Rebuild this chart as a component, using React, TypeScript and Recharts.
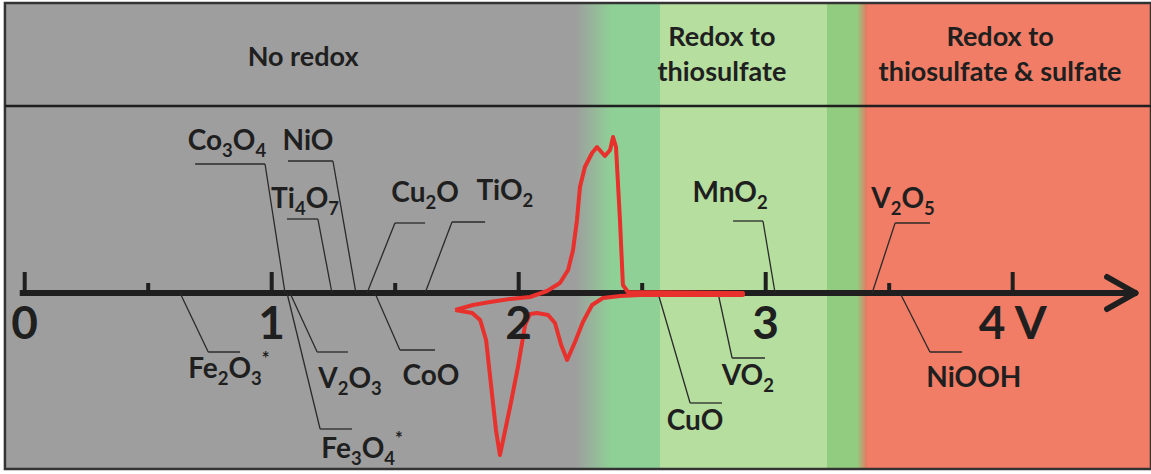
import React from 'react';
import { ComposedChart, Line, XAxis, YAxis, ReferenceArea, ReferenceLine, ReferenceDot } from 'recharts';

// cyclic voltammogram (arbitrary current units), points in scan order
const cvPotential = [
  1.743, 1.815, 1.884, 1.965, 2.046, 2.115, 2.167, 2.2, 2.22, 2.236, 2.248, 2.268, 2.297, 2.317,
  2.349, 2.37, 2.382, 2.394, 2.41, 2.422, 2.442, 2.908,
  2.908, 2.491, 2.41, 2.341, 2.297, 2.26, 2.228, 2.196, 2.172, 2.147, 2.119, 2.074, 2.046, 2.026,
  1.997, 1.965, 1.937, 1.924, 1.908, 1.888, 1.868, 1.844, 1.812, 1.743,
];
const cvCurrent = [
  -0.17, -0.12, -0.09, -0.06, -0.04, 0.02, 0.1, 0.23, 0.43, 0.73, 1.06, 1.26, 1.4, 1.46,
  1.37, 1.43, 1.56, 1.46, 0.73, 0.08, 0.01, 0.0,
  -0.02, -0.02, -0.03, -0.05, -0.12, -0.29, -0.49, -0.67, -0.52, -0.3, -0.22, -0.2, -0.21, -0.32,
  -0.74, -1.14, -1.47, -1.62, -1.37, -0.92, -0.47, -0.27, -0.2, -0.17,
];

const tickValues = [0, 1, 2, 3, 4];
const tickLabels = ['0', '1', '2', '3', '4 V'];
const minorTicks = [0.5, 1.5, 2.5, 3.5];

// region boundaries (V) and titles
const regionEdges = [2.23, 3.41];
const regionTitles = [['No redox'], ['Redox to', 'thiosulfate'], ['Redox to', 'thiosulfate & sulfate']];

// compounds and the potential where their leader touches the axis
const compounds = ['Co_3O_4', 'NiO', 'Ti_4O_7', 'Cu_2O', 'TiO_2', 'MnO_2', 'V_2O_5',
  'Fe_2O_3^*', 'V_2O_3', 'Fe_3O_4^*', 'CoO', 'CuO', 'VO_2', 'NiOOH'];
const potentials = [1.054, 1.341, 1.244, 1.386, 1.621, 3.038, 3.431,
  0.629, 1.074, 1.062, 1.418, 2.564, 2.807, 3.544];

// leader layout: elbow x, end x, leader y, label x, label y
const leaderLayout = [
  [0.973, 0.69, 1.29, 0.819, 1.43],
  [1.248, 1.066, 1.32, 1.147, 1.43],
  [1.187, 1.062, 0.74, 1.135, 0.85],
  [1.499, 1.621, 0.7, 1.621, 0.91],
  [1.73, 1.864, 0.71, 1.944, 0.93],
  [2.989, 2.868, 0.72, 2.856, 0.91],
  [3.524, 3.665, 0.7, 3.556, 0.85],
  [0.743, 0.872, -0.59, 0.827, -0.85],
  [1.184, 1.309, -0.59, 1.317, -0.95],
  [1.196, 1.325, -1.36, 1.366, -1.65],
  [1.519, 1.661, -0.57, 1.645, -0.92],
  [2.694, 2.823, -1.1, 2.714, -1.37],
  [2.864, 2.997, -0.65, 2.928, -0.92],
  [3.665, 3.795, -0.59, 3.843, -0.94],
];

const cvData = cvPotential.map((v, i) => ({ v, i: cvCurrent[i] }));

const FONT = 'Lato, "Open Sans", sans-serif';
const INK = '#1f1f1f';
const LEFT = -0.08;
const RIGHT = 4.56;
const TOP = 2.9;
const BOTTOM = -1.76;

function Chem({ x, y, text, size }: { x: number; y: number; text: string; size: number }) {
  const parts: React.ReactNode[] = [];
  let i = 0;
  let shift = 0;
  while (i < text.length) {
    const c = text[i];
    if (c === '_' || c === '^') {
      const d = c === '_' ? 7 : -13;
      parts.push(<tspan key={i} dy={d - shift} fontSize={size * 0.66}>{text[i + 1]}</tspan>);
      shift = d;
      i += 2;
    } else {
      let j = i;
      while (j < text.length && text[j] !== '_' && text[j] !== '^') j++;
      parts.push(<tspan key={i} dy={-shift} fontSize={size}>{text.slice(i, j)}</tspan>);
      shift = 0;
      i = j;
    }
  }
  return (
    <text x={x} y={y} textAnchor="middle" fontFamily={FONT} fontWeight={700} fontSize={size} fill={INK}>
      {parts}
    </text>
  );
}

const textAt = (text: string, size: number) => (p: any) => <Chem x={p.cx} y={p.cy} text={text} size={size} />;

export default function App() {
  const titleX = [1.127, 2.823, 3.949];
  return (
    <div style={{ position: 'absolute', left: 0, top: 0, background: '#fff' }}>
      <ComposedChart width={1151} height={474} data={cvData} margin={{ top: 0, right: 0, bottom: 0, left: 0 }}>
        <defs>
          <linearGradient id="grayGreen" x1="0" x2="1" y1="0" y2="0">
            <stop offset="0%" stopColor="#9e9e9e" />
            <stop offset="100%" stopColor="#8fd096" />
          </linearGradient>
          <linearGradient id="greenRed" x1="0" x2="1" y1="0" y2="0">
            <stop offset="0%" stopColor="#92cc80" />
            <stop offset="100%" stopColor="#ee6f5e" />
          </linearGradient>
        </defs>
        <XAxis type="number" dataKey="v" domain={[-0.1, 4.56]} hide allowDataOverflow />
        <YAxis type="number" domain={[-1.81, 2.93]} hide allowDataOverflow />

        <ReferenceArea x1={LEFT} x2={regionEdges[0] + 0.01} y1={BOTTOM} y2={TOP} fill="#9e9e9e" fillOpacity={1} stroke="none" />
        <ReferenceArea x1={regionEdges[0]} x2={2.375} y1={BOTTOM} y2={TOP} fill="url(#grayGreen)" fillOpacity={1} stroke="none" />
        <ReferenceArea x1={2.37} x2={2.575} y1={BOTTOM} y2={TOP} fill="#8fd096" fillOpacity={1} stroke="none" />
        <ReferenceArea x1={2.572} x2={3.25} y1={BOTTOM} y2={TOP} fill="#b6de9f" fillOpacity={1} stroke="none" />
        <ReferenceArea x1={3.248} x2={3.375} y1={BOTTOM} y2={TOP} fill="#92cc80" fillOpacity={1} stroke="none" />
        <ReferenceArea x1={3.37} x2={regionEdges[1] + 0.005} y1={BOTTOM} y2={TOP} fill="url(#greenRed)" fillOpacity={1} stroke="none" />
        <ReferenceArea x1={regionEdges[1]} x2={RIGHT} y1={BOTTOM} y2={TOP} fill="#f27d66" fillOpacity={1} stroke="none" />
        <ReferenceArea x1={LEFT} x2={RIGHT} y1={BOTTOM} y2={TOP} fill="none" stroke="#333" strokeWidth={2.5} />
        <ReferenceLine segment={[{ x: LEFT, y: 1.87 }, { x: RIGHT, y: 1.87 }]} stroke={INK} strokeWidth={2.5} />

        {/* axis */}
        <ReferenceLine segment={[{ x: -0.02, y: 0 }, { x: 4.49, y: 0 }]} stroke={INK} strokeWidth={6} />
        <ReferenceLine segment={[{ x: 4.382, y: 0.16 }, { x: 4.497, y: 0 }]} stroke={INK} strokeWidth={6} strokeLinecap="round" />
        <ReferenceLine segment={[{ x: 4.382, y: -0.16 }, { x: 4.497, y: 0 }]} stroke={INK} strokeWidth={6} strokeLinecap="round" />
        {tickValues.map((t) => (
          <ReferenceLine key={`t${t}`} segment={[{ x: t, y: 0 }, { x: t, y: 0.21 }]} stroke={INK} strokeWidth={4} />
        ))}
        {minorTicks.map((t) => (
          <ReferenceLine key={`m${t}`} segment={[{ x: t, y: 0 }, { x: t, y: 0.1 }]} stroke={INK} strokeWidth={4} />
        ))}

        {/* leaders */}
        {compounds.map((c, k) => {
          const [ex, endX, ly] = leaderLayout[k];
          return [
            <ReferenceLine key={`a${k}`} segment={[{ x: potentials[k], y: 0 }, { x: ex, y: ly }]} stroke="#2a2a2a" strokeWidth={1.3} />,
            <ReferenceLine key={`b${k}`} segment={[{ x: ex, y: ly }, { x: endX, y: ly }]} stroke="#2a2a2a" strokeWidth={1.3} />,
          ];
        })}

        <Line dataKey="i" type="linear" stroke="#e8302c" strokeWidth={4} dot={false} activeDot={false} strokeLinejoin="round" isAnimationActive={false} />

        {compounds.map((c, k) => (
          <ReferenceDot key={`l${k}`} x={leaderLayout[k][3]} y={leaderLayout[k][4]} r={0} shape={textAt(c, 28)} />
        ))}
        {tickValues.map((t, k) => (
          <ReferenceDot key={`tl${t}`} x={t} y={-0.46} r={0} shape={textAt(tickLabels[k], 46)} />
        ))}
        {regionTitles.map((lines, k) =>
          lines.map((ln, j) => (
            <ReferenceDot key={`h${k}${j}`} x={titleX[k]} y={lines.length === 1 ? 2.27 : j === 0 ? 2.47 : 2.12} r={0} shape={textAt(ln, 27)} />
          ))
        )}
      </ComposedChart>
    </div>
  );
}
